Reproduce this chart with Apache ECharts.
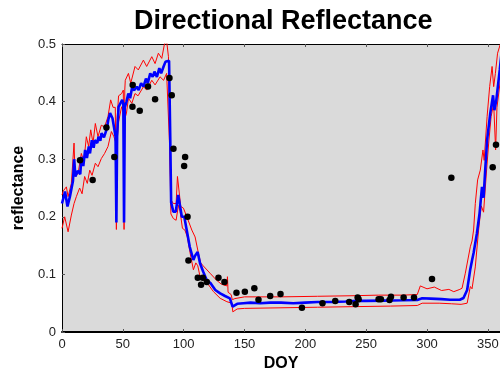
<!DOCTYPE html>
<html>
<head>
<meta charset="utf-8">
<script src="https://cdn.jsdelivr.net/npm/echarts@6/dist/echarts.min.js"></script>
<style>
  html, body { margin: 0; padding: 0; background: #fff; }
  #chart { width: 500px; height: 373px; }
</style>
</head>
<body>
<div id="chart"></div>
<script>
// values: [DOY, reflectance]
const meanLine = [
  [0,0.223],[2.5,0.244],[4.5,0.218],[6.5,0.235],[9,0.262],[10,0.300],[11,0.270],[13,0.280],[15,0.274],[16,0.304],
  [17.5,0.288],[19,0.316],[20.5,0.302],[22,0.322],[23,0.310],[24.5,0.333],[26,0.320],[27,0.333],[29,0.328],[30,0.339],
  [31.5,0.332],[32.5,0.345],[34.5,0.338],[37,0.354],[38,0.368],[39.5,0.380],[41.5,0.371],[43,0.368],[44,0.340],[44.7,0.190],
  [45.3,0.340],[46.5,0.391],[48,0.394],[49.5,0.403],[50.4,0.397],[51,0.190],[51.6,0.390],[53,0.400],[54.5,0.414],[56,0.406],
  [57.5,0.423],[59.5,0.420],[61.5,0.426],[63,0.420],[65,0.432],[67,0.426],[69,0.440],[70.5,0.432],[72.5,0.449],[74.5,0.443],
  [76,0.452],[78,0.443],[80,0.458],[81.5,0.449],[83.5,0.461],[85,0.469],[88,0.471],[89,0.333],[89.7,0.225],[91.5,0.209],
  [93.5,0.209],[95.5,0.238],[97,0.238],[98.5,0.200],[100.5,0.200],[102.5,0.177],[105,0.148],[108,0.125],[109.5,0.133],[111.5,0.139],
  [113.5,0.119],[116,0.105],[119,0.090],[122,0.085],[126,0.073],[130,0.067],[134,0.0625],[138,0.0585],[139.5,0.0556],[140.2,0.044],
  [144,0.049],[149,0.050],[155,0.051],[163,0.050],[171,0.051],[180,0.051],[190,0.050],[200,0.051],[210,0.052],[223,0.052],
  [233,0.053],[242,0.054],[250,0.054],[264,0.0545],[280,0.055],[292,0.0556],[296,0.0585],[303,0.058],[312,0.057],[319,0.056],
  [327,0.056],[330,0.059],[333,0.073],[335.5,0.108],[337,0.124],[338.3,0.137],[341,0.171],[343.2,0.206],[345.2,0.252],[346.5,0.233],
  [348,0.287],[349.4,0.333],[352,0.380],[354.3,0.411],[355.4,0.385],[357,0.403],[359.8,0.455],[362,0.500]
];

const upperLine = [
  [0,0.238],[1.1,0.245],[3.6,0.252],[5,0.235],[7.7,0.258],[9.9,0.328],[10.8,0.270],[13.2,0.275],[15.9,0.310],[18,0.296],
  [20,0.339],[21.9,0.322],[23.6,0.351],[25.5,0.328],[27.4,0.362],[29.6,0.339],[32.3,0.359],[35,0.356],[37.8,0.374],[40,0.403],
  [42,0.390],[43.8,0.390],[44.7,0.195],[45.3,0.370],[46.5,0.410],[49,0.414],[50.4,0.420],[51,0.195],[51.6,0.420],[52,0.437],
  [54.6,0.449],[56.5,0.432],[60,0.461],[62.7,0.455],[66.9,0.472],[69.6,0.461],[73.8,0.478],[76.5,0.466],[79.2,0.484],[82,0.475],
  [84.2,0.500],[86,0.505],[87.5,0.478],[88.5,0.350],[89.5,0.230],[91.5,0.223],[93.8,0.223],[94.9,0.270],[96.5,0.270],[97.6,0.218],
  [99.8,0.215],[102.6,0.200],[106.7,0.177],[109.4,0.165],[110.8,0.168],[112.1,0.137],[114,0.120],[116,0.115],[121.7,0.102],[127,0.090],
  [131,0.083],[135.5,0.080],[136,0.096],[136.5,0.069],[139,0.065],[140,0.056],[142,0.058],[150,0.061],[180,0.061],[210,0.062],
  [240,0.063],[260,0.064],[280,0.064],[292,0.065],[294.5,0.080],[300,0.075],[306,0.078],[312,0.072],[318,0.074],[322,0.070],
  [327,0.074],[328.8,0.076],[331.5,0.102],[335.6,0.148],[337,0.158],[338.3,0.177],[339.7,0.223],[341.6,0.264],[343.8,0.281],[346,0.316],
  [347,0.298],[349.4,0.374],[351.5,0.426],[353.5,0.461],[354.8,0.426],[356.2,0.449],[358,0.484],[360.3,0.500],[362,0.520]
];

const lowerLine = [
  [0,0.180],[2.2,0.200],[5,0.174],[7.7,0.203],[9.9,0.223],[11.8,0.235],[14.5,0.250],[16.5,0.240],[18.6,0.270],[20.8,0.258],
  [22.8,0.281],[24.7,0.272],[27.4,0.293],[29.6,0.287],[32.3,0.301],[35,0.310],[37.8,0.322],[40.6,0.348],[42.7,0.339],[44,0.330],
  [44.7,0.178],[45.3,0.330],[46.5,0.365],[49,0.391],[50.4,0.382],[51,0.178],[51.6,0.370],[53,0.380],[54.6,0.406],[57.4,0.397],
  [60,0.414],[62.5,0.410],[67,0.426],[69.6,0.420],[73.8,0.437],[76.5,0.429],[80.6,0.443],[83.5,0.437],[86,0.449],[87.5,0.446],
  [88.5,0.320],[89.5,0.205],[91.5,0.197],[93.8,0.194],[95.7,0.220],[97,0.210],[99,0.180],[101,0.177],[103,0.165],[105.3,0.137],
  [108,0.108],[110,0.120],[111.6,0.115],[113.5,0.096],[116,0.090],[120.4,0.082],[124.5,0.070],[130,0.0585],[135.5,0.0526],[139.6,0.050],
  [140.4,0.035],[144,0.040],[150,0.041],[180,0.042],[210,0.043],[240,0.044],[270,0.045],[292,0.046],[296,0.050],[310,0.050],
  [320,0.049],[328,0.048],[333,0.050],[335.6,0.079],[337,0.075],[339.7,0.113],[342.4,0.177],[344.6,0.219],[346.5,0.208],[348.8,0.276],
  [350.7,0.328],[352.7,0.374],[354.8,0.397],[356.4,0.316],[357.5,0.390],[360.3,0.437],[362,0.470]
];

const observations = [
  [14.8,0.298],[25.2,0.264],[36.5,0.355],[43,0.304],[57.9,0.391],[58.1,0.429],[63.9,0.384],[70.7,0.426],[76.5,0.404],[88.3,0.441],
  [90.2,0.411],[91.6,0.318],[100.4,0.288],[101.2,0.304],[103.2,0.200],[103.9,0.124],[111.6,0.094],[114.3,0.082],[115.7,0.094],[119,0.087],
  [128.6,0.094],[133.5,0.087],[143.4,0.068],[150.3,0.070],[158.1,0.076],[161.5,0.056],[171.1,0.0625],[179.6,0.066],[197.2,0.042],[214.1,0.050],
  [224.6,0.054],[236.1,0.052],[241.3,0.048],[243,0.060],[243.8,0.057],[260.2,0.057],[262.1,0.057],[269.2,0.0556],[270.4,0.061],[280.8,0.060],
  [289.3,0.060],[304.1,0.092],[320,0.268],[354,0.286],[356.7,0.325],[360.3,0.310],[362,0.345]
];

const FONT = '"Liberation Sans", Arial, sans-serif';

const chart = echarts.init(document.getElementById('chart'), null, { renderer: 'canvas' });

// axis is cut by the right edge of the picture, so max is where the frame ends
const tickStyle = { show: true, inside: true, length: 3, lineStyle: { color: '#555', width: 1 } };

chart.setOption({
  animation: false,
  backgroundColor: '#fff',
  title: {
    text: 'Directional Reflectance',
    left: 129,
    top: 3,
    textStyle: { fontFamily: FONT, fontSize: 27, fontWeight: 'bold', color: '#000' }
  },
  grid: {
    left: 62, top: 44, bottom: 41, right: 0,
    outerBoundsMode: 'none',
    containLabel: false,
    show: true,
    backgroundColor: '#dadada',
    borderWidth: 0
  },
  xAxis: [{
    type: 'value',
    min: 0, max: 360, interval: 50,
    name: 'DOY',
    nameLocation: 'middle',
    nameGap: 23,
    nameTextStyle: { fontFamily: FONT, fontSize: 16, fontWeight: 'bold', color: '#000' },
    axisLine: { show: true, lineStyle: { color: '#000', width: 2 } },
    axisTick: tickStyle,
    axisLabel: { fontFamily: FONT, fontSize: 13, color: '#222', margin: 6, showMaxLabel: false },
    splitLine: { show: false }
  }, {
    type: 'value',
    position: 'top',
    min: 0, max: 360, interval: 50,
    axisLine: { show: true, lineStyle: { color: '#000', width: 1 } },
    axisTick: tickStyle,
    axisLabel: { show: false },
    splitLine: { show: false }
  }],
  yAxis: {
    type: 'value',
    min: 0, max: 0.5, interval: 0.1,
    name: 'reflectance',
    nameLocation: 'middle',
    nameGap: 24,
    nameTextStyle: { fontFamily: FONT, fontSize: 16, fontWeight: 'bold', color: '#000' },
    axisLine: { show: true, lineStyle: { color: '#000', width: 1 } },
    axisTick: tickStyle,
    axisLabel: { fontFamily: FONT, fontSize: 13, color: '#222', margin: 6,
      formatter: v => (v === 0 ? '0' : v.toFixed(1)) },
    splitLine: { show: false }
  },
  series: [
    { type: 'line', data: upperLine, showSymbol: false, lineStyle: { color: '#ff0000', width: 1 }, z: 2 },
    { type: 'line', data: lowerLine, showSymbol: false, lineStyle: { color: '#ff0000', width: 1 }, z: 2 },
    { type: 'line', data: meanLine, showSymbol: false, lineStyle: { color: '#0000ff', width: 2.6 }, z: 3 },
    { type: 'scatter', data: observations, symbol: 'circle', symbolSize: 6.5,
      itemStyle: { color: '#000', opacity: 1 }, z: 4 }
  ]
});
</script>
</body>
</html>
